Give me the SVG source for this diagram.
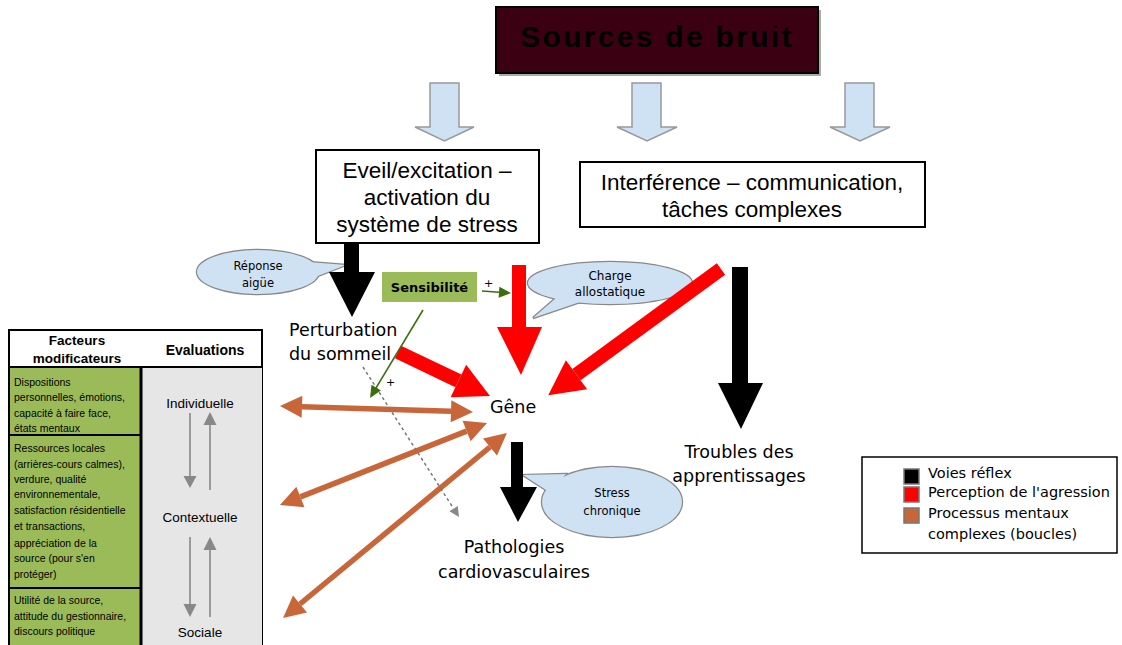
<svg xmlns="http://www.w3.org/2000/svg" width="1122" height="645" viewBox="0 0 1122 645">
<style>
.ar{font-family:"Liberation Sans",Arial,sans-serif;fill:#000}
.th{font-family:"DejaVu Sans","Noto Sans",sans-serif;fill:#000}
.box{fill:#fff;stroke:#000;stroke-width:2}
.bl{fill:#cfe2f3;stroke:#999;stroke-width:1.5}
.co-s{fill:#cfe2f3;stroke:#888;stroke-width:2.4}
.co-f{fill:#cfe2f3;stroke:none}
.org{stroke:#c8663a;stroke-width:5.5;fill:none}
.red{stroke:#ff0000;stroke-width:14;fill:none}
.grn{stroke:#3c6e0e;stroke-width:1.6;fill:none}
.gry{stroke:#888;stroke-width:1.6;fill:none}
</style>
<defs>
<marker id="mo" markerUnits="userSpaceOnUse" markerWidth="24" markerHeight="24" refX="0" refY="11" orient="auto-start-reverse" overflow="visible"><path d="M0,0 L22,11 L0,22 z" fill="#c8663a"/></marker>
<marker id="mr" markerUnits="userSpaceOnUse" markerWidth="36" markerHeight="38" refX="0" refY="18" orient="auto" overflow="visible"><path d="M0,0 L35,18 L0,36 z" fill="#ff0000"/></marker>
<marker id="mg" markerUnits="userSpaceOnUse" markerWidth="13" markerHeight="12" refX="0" refY="5.5" orient="auto" overflow="visible"><path d="M0,0 L12,5.5 L0,11 z" fill="#3c6e0e"/></marker>
<marker id="md" markerUnits="userSpaceOnUse" markerWidth="11" markerHeight="11" refX="0" refY="5" orient="auto" overflow="visible"><path d="M0,0 L10,5 L0,10 z" fill="#888"/></marker>
</defs>

<g id="sources">
<rect x="499" y="10" width="322" height="66" fill="#aaa"/>
<rect x="496" y="7" width="322" height="66" fill="#3b0113" stroke="#000" stroke-width="2"/>
<text class="ar" x="657" y="47" text-anchor="middle" font-size="30" font-weight="bold" letter-spacing="2.3" fill="#14000a">Sources de bruit</text>
</g>

<g id="source-arrows">
<polygon class="bl" points="430,83 459,83 459,127 474,127 444.5,141 415,127 430,127"/>
<polygon class="bl" points="632,83 661,83 661,127 677,127 647,141 617,127 632,127"/>
<polygon class="bl" points="845,83 874,83 874,127 890,127 860,141 830,127 845,127"/>
</g>

<g id="eveil">
<rect class="box" x="316" y="150" width="223" height="93"/>
<text class="ar" font-size="22.5" text-anchor="middle"><tspan x="427" y="178">Eveil/excitation –</tspan><tspan x="427" y="205">activation du</tspan><tspan x="427" y="232">système de stress</tspan></text>
</g>

<g id="interference">
<rect class="box" x="580" y="162" width="345" height="65"/>
<text class="ar" font-size="22.5" text-anchor="middle"><tspan x="752" y="190">Interférence – communication,</tspan><tspan x="752" y="217">tâches complexes</tspan></text>
</g>

<g id="reponse-aigue">
<ellipse class="co-s" cx="258" cy="272" rx="61" ry="22"/>
<polygon class="co-s" points="308,262 346,265 310,279"/>
<ellipse class="co-f" cx="258" cy="272" rx="61" ry="22"/>
<polygon class="co-f" points="308,262 346,265 310,279"/>
<text class="th" font-size="11.5" text-anchor="middle"><tspan x="258" y="270">Réponse</tspan><tspan x="258" y="287">aigüe</tspan></text>
</g>

<g id="sensibilite">
<rect x="382" y="272" width="95" height="30" fill="#9bbb59"/>
<text class="th" x="429.5" y="292" font-size="13" font-weight="bold" text-anchor="middle">Sensibilité</text>
</g>

<g id="charge-allostatique">
<ellipse class="co-s" cx="610" cy="283" rx="82" ry="21"/>
<polygon class="co-s" points="556,298 533,318 580,302"/>
<ellipse class="co-f" cx="610" cy="283" rx="82" ry="21"/>
<polygon class="co-f" points="556,298 533,318 580,302"/>
<text class="th" font-size="12" text-anchor="middle"><tspan x="610" y="280">Charge</tspan><tspan x="610" y="296">allostatique</tspan></text>
</g>

<g id="perturbation">
<text class="th" font-size="17.5"><tspan x="289" y="336">Perturbation</tspan><tspan x="289" y="360">du sommeil</tspan></text>
</g>

<g id="gene">
<text class="th" x="490" y="413" font-size="17.5">Gêne</text>
</g>

<g id="troubles">
<text class="th" font-size="17.5" text-anchor="middle"><tspan x="739" y="458">Troubles des</tspan><tspan x="739" y="482">apprentissages</tspan></text>
</g>

<g id="stress-chronique">
<ellipse class="co-s" cx="612" cy="502" rx="70" ry="35"/>
<polygon class="co-s" points="566,474 523,475 549,492"/>
<ellipse class="co-f" cx="612" cy="502" rx="70" ry="35"/>
<polygon class="co-f" points="566,474 523,475 549,492"/>
<text class="th" font-size="11.5" text-anchor="middle"><tspan x="612" y="497">Stress</tspan><tspan x="612" y="515">chronique</tspan></text>
</g>

<g id="pathologies">
<text class="th" font-size="17.5" text-anchor="middle"><tspan x="514" y="553">Pathologies</tspan><tspan x="514" y="578">cardiovasculaires</tspan></text>
</g>

<g id="table">
<rect x="9" y="330" width="253" height="320" fill="#fff" stroke="#000" stroke-width="2"/>
<rect x="10" y="367" width="131" height="280" fill="#9bbb59"/>
<rect x="142" y="367" width="120" height="280" fill="#e6e6e6"/>
<line x1="9" y1="367" x2="262" y2="367" stroke="#000" stroke-width="2"/>
<line x1="141" y1="367" x2="141" y2="645" stroke="#000" stroke-width="3"/>
<line x1="9" y1="435" x2="141" y2="435" stroke="#000" stroke-width="2"/>
<line x1="9" y1="588" x2="141" y2="588" stroke="#000" stroke-width="2"/>
<text class="ar" font-size="13.5" font-weight="bold" text-anchor="middle"><tspan x="77" y="345">Facteurs</tspan><tspan x="77" y="363">modificateurs</tspan></text>
<text class="ar" x="205" y="355" font-size="14" font-weight="bold" text-anchor="middle">Evaluations</text>
<text class="ar" font-size="10.5"><tspan x="14" y="386">Dispositions</tspan><tspan x="14" y="401">personnelles, émotions,</tspan><tspan x="14" y="417">capacité à faire face,</tspan><tspan x="14" y="432">états mentaux</tspan></text>
<text class="ar" font-size="10.5"><tspan x="14" y="452">Ressources locales</tspan><tspan x="14" y="468">(arrières-cours calmes),</tspan><tspan x="14" y="483">verdure, qualité</tspan><tspan x="14" y="498">environnementale,</tspan><tspan x="14" y="514">satisfaction résidentielle</tspan><tspan x="14" y="530">et transactions,</tspan><tspan x="14" y="547">appréciation de la</tspan><tspan x="14" y="562">source (pour s'en</tspan><tspan x="14" y="578">protéger)</tspan></text>
<text class="ar" font-size="10.5"><tspan x="14" y="604">Utilité de la source,</tspan><tspan x="14" y="620">attitude du gestionnaire,</tspan><tspan x="14" y="635">discours politique</tspan></text>
<text class="ar" font-size="13.5" text-anchor="middle"><tspan x="200" y="408">Individuelle</tspan><tspan x="200" y="522">Contextuelle</tspan><tspan x="200" y="637">Sociale</tspan></text>
<g fill="#888">
<line class="gry" x1="190" y1="413" x2="190" y2="477"/><polygon points="183.5,476 196.5,476 190,488"/>
<line class="gry" x1="210" y1="490" x2="210" y2="424"/><polygon points="203.5,425 216.5,425 210,412"/>
<line class="gry" x1="190" y1="537" x2="190" y2="605"/><polygon points="183.5,604 196.5,604 190,617"/>
<line class="gry" x1="210" y1="617" x2="210" y2="549"/><polygon points="203.5,550 216.5,550 210,537"/>
</g>
</g>

<g id="legend">
<rect x="862" y="457" width="255" height="96" fill="#fff" stroke="#000" stroke-width="1.5"/>
<rect x="904" y="469" width="15" height="15" fill="#000" stroke="#777" stroke-width="1.5"/>
<rect x="904" y="487" width="15" height="15" fill="#ff0000" stroke="#777" stroke-width="1.5"/>
<rect x="904" y="508" width="15" height="15" fill="#c8663a" stroke="#777" stroke-width="1.5"/>
<text class="th" font-size="14.5"><tspan x="928" y="478">Voies réflex</tspan><tspan x="928" y="497">Perception de l'agression</tspan><tspan x="928" y="518">Processus mentaux</tspan><tspan x="928" y="539">complexes (boucles)</tspan></text>
</g>

<g id="connectors">
<polygon points="344,243 359,243 359,272 375,272 352,317 329,272 344,272" fill="#000"/>
<polygon points="732,267 748,267 748,383 763,383 741,429 718,383 732,383" fill="#000"/>
<polygon points="511,442 523,442 523,487 537,487 518,522 500,487 511,487" fill="#000"/>
<polygon points="512,265 526,265 526,327 542,327 521,375 497,327 512,327" fill="#ff0000"/>
<line class="red" x1="721" y1="269" x2="576.5" y2="374.7" marker-end="url(#mr)"/>
<line class="red" x1="398" y1="352" x2="458.4" y2="380.9" marker-end="url(#mr)"/>
<line class="org" x1="302" y1="406.7" x2="451" y2="411.3" marker-start="url(#mo)" marker-end="url(#mo)"/>
<line class="org" x1="300.4" y1="496.9" x2="466.6" y2="431.1" marker-start="url(#mo)" marker-end="url(#mo)"/>
<line class="org" x1="300" y1="604" x2="490" y2="447" marker-start="url(#mo)" marker-end="url(#mo)"/>
<line x1="363" y1="367" x2="453.6" y2="508.6" stroke="#777" stroke-width="1.5" stroke-dasharray="3,3" marker-end="url(#md)"/>
<line class="grn" x1="423" y1="310" x2="376.2" y2="387.7" marker-end="url(#mg)"/>
<line class="grn" x1="482" y1="291" x2="499" y2="292.2" marker-end="url(#mg)"/>
<text class="th" x="484" y="287" font-size="11">+</text>
<text class="th" x="386" y="386" font-size="11">+</text>
</g>
</svg>
